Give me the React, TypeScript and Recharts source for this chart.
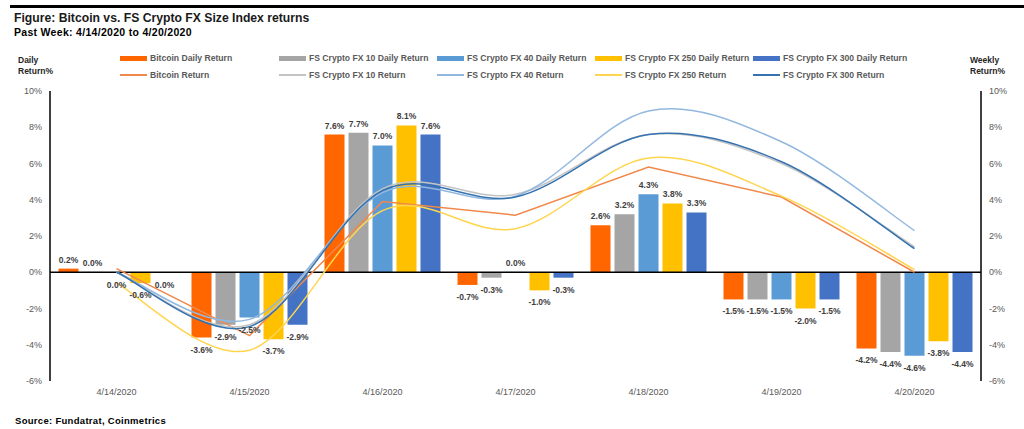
import React from 'react'
import {
  ComposedChart, Bar, Line, XAxis, YAxis, ReferenceLine, LabelList,
} from 'recharts'

const dates = ['4/14/2020', '4/15/2020', '4/16/2020', '4/17/2020', '4/18/2020', '4/19/2020', '4/20/2020']

// daily returns, %
const btcDaily = [0.2, -3.6, 7.6, -0.7, 2.6, -1.5, -4.2]
const fs10Daily = [0.02, -2.9, 7.7, -0.3, 3.2, -1.5, -4.4]
const fs40Daily = [-0.04, -2.5, 7.0, 0.02, 4.3, -1.5, -4.6]
const fs250Daily = [-0.6, -3.7, 8.1, -1.0, 3.8, -2.0, -3.8]
const fs300Daily = [-0.04, -2.9, 7.6, -0.3, 3.3, -1.5, -4.4]

// cumulative weekly returns, %
const btcWeekly = [0.2, -3.5, 3.9, 3.15, 5.8, 4.15, 0.0]
const fs10Weekly = [0.0, -2.9, 4.6, 4.3, 7.6, 6.0, 1.4]
const fs40Weekly = [0.0, -2.6, 4.4, 4.2, 8.9, 7.2, 2.3]
const fs250Weekly = [-0.6, -4.3, 3.4, 2.4, 6.3, 4.2, 0.15]
const fs300Weekly = [0.0, -3.0, 4.5, 4.15, 7.6, 6.1, 1.3]

const yTicks = [-6, -4, -2, 0, 2, 4, 6, 8, 10]

const data = dates.map((date, i) => ({
  date,
  btcDaily: btcDaily[i],
  fs10Daily: fs10Daily[i],
  fs40Daily: fs40Daily[i],
  fs250Daily: fs250Daily[i],
  fs300Daily: fs300Daily[i],
  btcWeekly: btcWeekly[i],
  fs10Weekly: fs10Weekly[i],
  fs40Weekly: fs40Weekly[i],
  fs250Weekly: fs250Weekly[i],
  fs300Weekly: fs300Weekly[i],
}))

const FONT = '"Liberation Sans", Arial, sans-serif'

const BAR = {
  btc: '#ff6600',
  fs10: '#a5a5a5',
  fs40: '#5b9bd5',
  fs250: '#ffc000',
  fs300: '#4472c4',
}
const LINE = {
  btc: '#f0884a',
  fs10: '#c4c4c4',
  fs40: '#93b8df',
  fs250: '#ffd54f',
  fs300: '#3472b0',
}

// excel-style smoothed line (catmull-rom through the points)
function excelCurve(context: any) {
  let pts: [number, number][] = []
  return {
    areaStart() {},
    areaEnd() {},
    lineStart() { pts = [] },
    point(x: number, y: number) { pts.push([+x, +y]) },
    lineEnd() {
      if (!pts.length) return
      context.moveTo(pts[0][0], pts[0][1])
      for (let i = 0; i < pts.length - 1; i++) {
        const p0 = pts[i - 1] || pts[i]
        const p1 = pts[i]
        const p2 = pts[i + 1]
        const p3 = pts[i + 2] || pts[i + 1]
        context.bezierCurveTo(
          p1[0] + (p2[0] - p0[0]) / 6, p1[1] + (p2[1] - p0[1]) / 6,
          p2[0] - (p3[0] - p1[0]) / 6, p2[1] - (p3[1] - p1[1]) / 6,
          p2[0], p2[1],
        )
      }
    },
  }
}

const fmt = (v: number) => (Math.abs(v) < 0.05 ? '0.0' : v.toFixed(1)) + '%'

function ValueLabel(props: any) {
  const x = Number(props.x), y = Number(props.y)
  const w = Number(props.width), h = Number(props.height)
  const v = Number(props.value)
  const top = Math.min(y, y + h)
  const bottom = Math.max(y, y + h)
  const ty = v >= 0 ? top - 6 : bottom + 15
  return (
    <text x={x + w / 2} y={ty} textAnchor="middle" fontSize={8.5} fontWeight="bold" fill="#404040" fontFamily={FONT}>
      {fmt(v)}
    </text>
  )
}

const legendRows = [
  [
    { name: 'Bitcoin Daily Return', color: BAR.btc },
    { name: 'FS Crypto FX 10 Daily Return', color: BAR.fs10 },
    { name: 'FS Crypto FX 40 Daily Return', color: BAR.fs40 },
    { name: 'FS Crypto FX 250 Daily Return', color: BAR.fs250 },
    { name: 'FS Crypto FX 300 Daily Return', color: BAR.fs300 },
  ],
  [
    { name: 'Bitcoin Return', color: LINE.btc },
    { name: 'FS Crypto FX 10 Return', color: LINE.fs10 },
    { name: 'FS Crypto FX 40 Return', color: LINE.fs40 },
    { name: 'FS Crypto FX 250 Return', color: LINE.fs250 },
    { name: 'FS Crypto FX 300 Return', color: LINE.fs300 },
  ],
]
const legendX = [120, 279, 437, 595, 753]
const legendY = [58, 75]

const abs = (left: number, top: number): React.CSSProperties => ({ position: 'absolute', left, top, whiteSpace: 'nowrap', lineHeight: 1 })

export default function App() {
  const tick = { fontSize: 9, fill: '#595959', fontFamily: FONT }
  return (
    <div style={{ position: 'absolute', left: 0, top: 0, width: 1024, height: 429, background: '#fff', fontFamily: FONT, overflow: 'hidden' }}>
      <div style={{ position: 'absolute', left: 10, top: 5, width: 1014, height: 3, background: '#000' }} />
      <div style={{ ...abs(14, 12), fontSize: 12.2, fontWeight: 'bold', color: '#1a1a1a' }}>
        Figure: Bitcoin vs. FS Crypto FX Size Index returns
      </div>
      <div style={{ ...abs(14, 27), fontSize: 10.5, fontWeight: 'bold', color: '#000', letterSpacing: 0.3 }}>
        Past Week: 4/14/2020 to 4/20/2020
      </div>
      <div style={{ ...abs(18, 55), fontSize: 8.5, fontWeight: 'bold', color: '#262626', lineHeight: '11px' }}>
        Daily<br />Return%
      </div>
      <div style={{ ...abs(970, 55), fontSize: 8.5, fontWeight: 'bold', color: '#262626', lineHeight: '11px' }}>
        Weekly<br />Return%
      </div>
      {legendRows.map((row, r) =>
        row.map((item, c) => (
          <div key={r + '-' + c} style={{ ...abs(legendX[c], legendY[r] - 6), height: 12, display: 'flex', alignItems: 'center' }}>
            <span style={{ display: 'inline-block', width: 27, height: r === 0 ? 5 : 1.5, background: item.color, marginRight: 3 }} />
            <span style={{ fontSize: 8.6, fontWeight: 'bold', color: '#595959' }}>{item.name}</span>
          </div>
        )),
      )}
      <div style={{ ...abs(15, 416), fontSize: 9.5, fontWeight: 'bold', color: '#000', letterSpacing: 0.3 }}>
        Source: Fundatrat, Coinmetrics
      </div>
      <div style={{ position: 'absolute', left: 0, top: 0 }}>
        <ComposedChart
          width={1024}
          height={429}
          data={data}
          margin={{ top: 91, right: 0, bottom: 28, left: 0 }}
          barCategoryGap={8.5}
          barGap={4}
        >
          <XAxis dataKey="date" axisLine={false} tickLine={false} height={20} tick={tick} interval={0} />
          <YAxis
            yAxisId="left"
            domain={[-6, 10]}
            ticks={yTicks}
            width={50}
            tickLine={false}
            axisLine={{ stroke: '#000', strokeWidth: 1.5 }}
            tick={tick}
            tickFormatter={(v) => `${v}%`}
          />
          <YAxis
            yAxisId="right"
            orientation="right"
            domain={[-6, 10]}
            ticks={yTicks}
            width={43}
            tickLine={false}
            axisLine={{ stroke: '#000', strokeWidth: 1.5 }}
            tick={tick}
            tickFormatter={(v) => `${v}%`}
          />
          <ReferenceLine yAxisId="left" y={0} stroke="#000" strokeWidth={1.5} />
          <Bar yAxisId="left" dataKey="btcDaily" fill={BAR.btc} isAnimationActive={false}>
            <LabelList dataKey="btcDaily" content={ValueLabel} />
          </Bar>
          <Bar yAxisId="left" dataKey="fs10Daily" fill={BAR.fs10} isAnimationActive={false}>
            <LabelList dataKey="fs10Daily" content={ValueLabel} />
          </Bar>
          <Bar yAxisId="left" dataKey="fs40Daily" fill={BAR.fs40} isAnimationActive={false}>
            <LabelList dataKey="fs40Daily" content={ValueLabel} />
          </Bar>
          <Bar yAxisId="left" dataKey="fs250Daily" fill={BAR.fs250} isAnimationActive={false}>
            <LabelList dataKey="fs250Daily" content={ValueLabel} />
          </Bar>
          <Bar yAxisId="left" dataKey="fs300Daily" fill={BAR.fs300} isAnimationActive={false}>
            <LabelList dataKey="fs300Daily" content={ValueLabel} />
          </Bar>
          <Line yAxisId="right" type="linear" dataKey="btcWeekly" stroke={LINE.btc} strokeWidth={1.5} dot={false} isAnimationActive={false} />
          <Line yAxisId="right" type={excelCurve as any} dataKey="fs10Weekly" stroke={LINE.fs10} strokeWidth={1.5} dot={false} isAnimationActive={false} />
          <Line yAxisId="right" type={excelCurve as any} dataKey="fs40Weekly" stroke={LINE.fs40} strokeWidth={1.5} dot={false} isAnimationActive={false} />
          <Line yAxisId="right" type={excelCurve as any} dataKey="fs250Weekly" stroke={LINE.fs250} strokeWidth={1.5} dot={false} isAnimationActive={false} />
          <Line yAxisId="right" type={excelCurve as any} dataKey="fs300Weekly" stroke={LINE.fs300} strokeWidth={1.5} dot={false} isAnimationActive={false} />
        </ComposedChart>
      </div>
    </div>
  )
}
